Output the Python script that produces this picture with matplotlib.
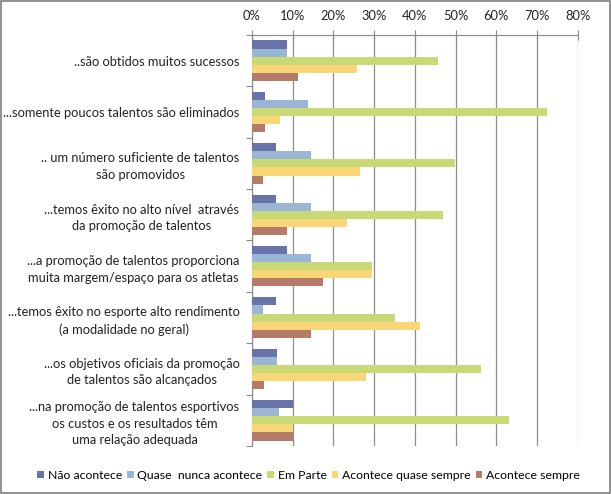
import numpy as np
import matplotlib.pyplot as plt
from matplotlib.patches import Rectangle

plt.rcParams['font.family'] = ['Lato', 'DejaVu Sans']

# Categorias (de cima para baixo)
categorias = [
    "..são obtidos muitos sucessos",
    "...somente poucos talentos são eliminados",
    ".. um número suficiente de talentos\nsão promovidos",
    "...temos êxito no alto nível  através\nda promoção de talentos",
    "...a promoção de talentos proporciona\nmuita margem/espaço para os atletas",
    "...temos êxito no esporte alto rendimento\n(a modalidade no geral)",
    "...os objetivos oficiais da promoção\nde talentos são alcançados",
    "...na promoção de talentos esportivos\nos custos e os resultados têm\numa relação adequada",
]

series = ["Não acontece", "Quase  nunca acontece", "Em Parte",
          "Acontece quase sempre", "Acontece sempre"]

nao_acontece = [8.5, 3.2, 5.8, 5.8, 8.7, 5.8, 6.1, 10.0]
quase_nunca = [8.5, 13.7, 14.6, 14.6, 14.6, 2.8, 6.1, 6.6]
em_parte = [45.6, 72.4, 49.9, 47.0, 29.4, 35.2, 56.2, 63.2]
quase_sempre = [25.7, 6.8, 26.5, 23.4, 29.4, 41.2, 28.1, 10.0]
sempre = [11.3, 3.2, 2.8, 8.7, 17.5, 14.6, 2.9, 10.0]

cores = ["#6873A9", "#9BB5D4", "#C9D975", "#F9D678", "#B57B69"]

valores = [nao_acontece, quase_nunca, em_parte, quase_sempre, sempre]

fig = plt.figure(figsize=(6.11, 4.94), dpi=100)
ax = fig.add_axes([252 / 611, 1 - 446 / 494, (577.7 - 252) / 611, (446 - 35) / 494])

n = len(categorias)
y = np.arange(n)
h = 0.158
for i, (nome, vals) in enumerate(zip(series, valores)):
    ax.barh(y + (i - 2) * h, vals, height=h, color=cores[i], label=nome, zorder=3)

ax.set_xlim(0, 80)
ax.set_ylim(n - 0.5, -0.5)

# eixo x no topo
ax.xaxis.tick_top()
ax.set_xticks(np.arange(0, 81, 10))
ax.set_xticklabels([f"{v}%" for v in range(0, 81, 10)], fontsize=9.3, color="#222222")
ax.tick_params(axis='x', length=7, direction='inout', color="#888888", pad=6)
ax.grid(axis='x', color="#8c8c8c", linewidth=0.9, zorder=0)

# eixo y: marcas nas divisões, rótulos no centro
ax.set_yticks(np.arange(-0.5, n, 1))
ax.set_yticklabels([])
ax.tick_params(axis='y', which='major', length=4, color="#888888")
ax.set_yticks(y, minor=True)
ax.set_yticklabels(categorias, minor=True, fontsize=9.3, color="#222222",
                   ha='right', multialignment='center', linespacing=1.45)
ax.tick_params(axis='y', which='minor', length=0, pad=9)

for s in ['right', 'bottom']:
    ax.spines[s].set_visible(False)
ax.spines['top'].set_color("#888888")
ax.spines['left'].set_color("#888888")

fig.legend(loc='lower center', bbox_to_anchor=(0.505, 0.005), ncol=5, fontsize=8.8,
           frameon=False, handlelength=0.55, handleheight=0.55, handletextpad=0.3,
           columnspacing=0.4)

fig.patches.append(Rectangle((0.002, 0.002), 0.996, 0.996, transform=fig.transFigure,
                             fill=False, edgecolor="#7f7f7f", linewidth=1.2))

fig.savefig("out.png", dpi=100)
